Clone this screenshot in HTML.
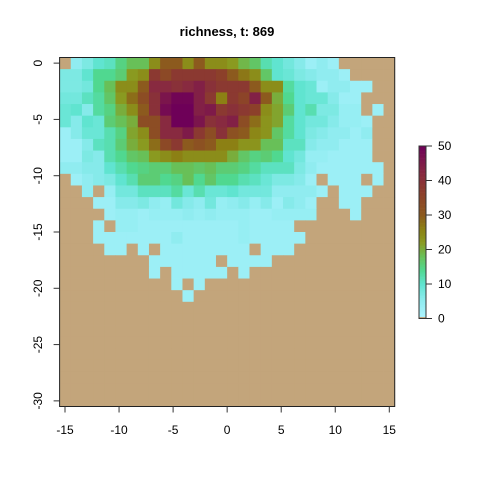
<!DOCTYPE html>
<html>
<head>
<meta charset="utf-8">
<style>
  html,body{margin:0;padding:0;background:#fff;}
  svg{display:block;font-family:"Liberation Sans",Arial,sans-serif;}
</style>
</head>
<body>
<svg id="chart" width="480" height="480" viewBox="0 0 480 480">
  <text x="227" y="36" text-anchor="middle" font-size="13" font-weight="bold">richness, t: 869</text>
  <g id="cells"></g>
  <rect x="59.6" y="57.5" width="335.1" height="349" fill="none" stroke="#222" stroke-width="1"/>
  <g id="xaxis"></g>
  <g id="yaxis"></g>
  <g id="legend"></g>
</svg>
<script>
const xTicks = [-15, -10, -5, 0, 5, 10, 15];
const yTicks = [0, -5, -10, -15, -20, -25, -30];
const legendTicks = [0, 10, 20, 30, 40, 50];
const nCols = 30;
const nRows = 30;
const row0  = [0,5,7,10,11,15,18,18,24,30,30,24,30,24,24,22,19,17,12,10,8,6,3,5,3,0,0,0,0,0];
const row1  = [7,7,10,14,14,16,22,24,38,34,38,38,38,38,36,30,27,24,17,10,9,7,6,5,5,3,0,0,0,0];
const row2  = [7,7,8,14,18,24,24,30,42,42,40,42,44,40,38,38,38,30,24,24,13,10,9,3,5,5,3,3,0,0];
const row3  = [8,8,11,13,17,22,28,33,40,46,49,49,44,38,26,38,35,44,30,20,14,10,9,9,6,3,3,0,0,0];
const row4  = [9,10,6,13,15,20,24,30,40,48,50,50,44,45,38,40,38,36,24,21,16,10,12,7,7,4,4,0,3,0];
const row5  = [9,6,10,9,16,18,20,33,33,42,50,50,46,40,42,44,33,28,23,21,13,10,8,8,6,4,4,3,0,0];
const row6  = [3,6,9,9,12,15,21,24,33,42,42,45,38,33,40,32,30,25,23,17,13,10,7,6,5,5,3,5,0,0];
const row7  = [3,3,6,11,12,16,20,22,28,34,38,30,32,30,26,26,23,23,18,18,11,11,6,5,5,3,3,3,0,0];
const row8  = [3,3,7,6,12,14,17,18,22,24,26,24,24,24,24,20,17,15,16,14,10,8,4,4,3,3,3,3,0,0];
const row9  = [5,5,6,6,10,12,14,15,16,16,18,18,17,18,16,16,15,13,11,11,11,7,5,3,3,3,3,3,3,0];
const row10 = [0,3,5,6,7,10,12,16,16,14,15,18,14,17,14,14,12,11,9,7,7,6,3,0,3,3,3,0,3,0];
const row11 = [0,0,5,0,4,8,8,11,11,11,13,9,12,9,9,10,8,8,8,5,5,5,5,3,0,3,3,3,0,0];
const row12 = [0,0,0,3,3,6,6,7,5,4,8,6,5,8,4,5,6,4,6,3,6,5,3,0,0,3,3,0,0,0];
const row13 = [0,0,0,0,3,4,4,3,4,4,4,5,4,5,4,4,4,3,3,4,4,4,4,0,0,0,3,0,0,0];
const row14 = [0,0,0,3,0,4,4,3,3,3,3,3,3,3,3,3,4,3,3,3,3,0,0,0,0,0,0,0,0,0];
const row15 = [0,0,0,3,3,3,3,3,3,3,5,3,3,3,3,3,4,3,3,3,3,3,0,0,0,0,0,0,0,0];
const row16 = [0,0,0,0,3,3,0,3,0,3,3,3,3,3,3,3,3,0,3,3,3,0,0,0,0,0,0,0,0,0];
const row17 = [0,0,0,0,0,0,0,0,3,3,3,3,3,3,0,3,3,3,3,0,0,0,0,0,0,0,0,0,0,0];
const row18 = [0,0,0,0,0,0,0,0,3,0,3,3,3,3,3,0,3,0,0,0,0,0,0,0,0,0,0,0,0,0];
const row19 = [0,0,0,0,0,0,0,0,0,0,3,0,3,0,0,0,0,0,0,0,0,0,0,0,0,0,0,0,0,0];
const row20 = [0,0,0,0,0,0,0,0,0,0,0,3,0,0,0,0,0,0,0,0,0,0,0,0,0,0,0,0,0,0];
const rows = [row0,row1,row2,row3,row4,row5,row6,row7,row8,row9,row10,row11,row12,row13,row14,row15,row16,row17,row18,row19,row20];

const NS = "http://www.w3.org/2000/svg";
const plotL = 59.6, plotR = 394.7, plotT = 57.5, plotB = 406.5;
const cellW = (plotR - plotL) / nCols;
const cellH = (plotB - plotT) / nRows;
function xScale(v){ return plotL + (v + 15.5) * (plotR - plotL) / 31; }
function yScale(v){ return plotT + (0.5 - v) * (plotB - plotT) / 31; }
function legY(v){ return 318.5 - v * (318.5 - 146) / 50; }

const stops = [
  [1,[168,242,252]],[5,[144,236,240]],[10,[96,228,208]],[14,[80,216,144]],
  [18,[104,192,88]],[22,[138,154,32]],[26,[140,128,20]],[30,[140,90,30]],
  [36,[140,64,42]],[42,[136,42,64]],[50,[110,0,88]]
];
function color(v){
  if (v <= 0.5) return "#c3a57b";
  if (v <= stops[0][0]) return "rgb(" + stops[0][1].join(",") + ")";
  for (let k = 1; k < stops.length; k++){
    if (v <= stops[k][0]){
      const a = stops[k-1], b = stops[k];
      const t = (v - a[0]) / (b[0] - a[0]);
      const c = a[1].map((x, j) => Math.round(x + (b[1][j] - x) * t));
      return "rgb(" + c.join(",") + ")";
    }
  }
  return "rgb(" + stops[stops.length-1][1].join(",") + ")";
}

const cells = document.getElementById("cells");
for (let r = 0; r < nRows; r++){
  const vals = r < rows.length ? rows[r] : null;
  for (let c = 0; c < nCols; c++){
    const v = vals ? vals[c] : 0;
    const rect = document.createElementNS(NS, "rect");
    rect.setAttribute("x", plotL + c * cellW);
    rect.setAttribute("y", plotT + r * cellH);
    rect.setAttribute("width", cellW + 0.4);
    rect.setAttribute("height", cellH + 0.4);
    rect.setAttribute("fill", color(v));
    
    
    cells.appendChild(rect);
  }
}

const xa = document.getElementById("xaxis");
xTicks.forEach(v => {
  const x = xScale(v);
  const l = document.createElementNS(NS, "line");
  l.setAttribute("x1", x); l.setAttribute("x2", x);
  l.setAttribute("y1", plotB); l.setAttribute("y2", plotB + 6);
  l.setAttribute("stroke", "#333");
  
  
  xa.appendChild(l);
  const t = document.createElementNS(NS, "text");
  t.setAttribute("x", x); t.setAttribute("y", 434);
  t.setAttribute("text-anchor", "middle"); t.setAttribute("font-size", "12");
  t.textContent = v;
  
  
  xa.appendChild(t);
});

const ya = document.getElementById("yaxis");
yTicks.forEach(v => {
  const y = yScale(v);
  const l = document.createElementNS(NS, "line");
  l.setAttribute("x1", plotL - 6); l.setAttribute("x2", plotL);
  l.setAttribute("y1", y); l.setAttribute("y2", y);
  l.setAttribute("stroke", "#333");
  
  
  ya.appendChild(l);
  const t = document.createElementNS(NS, "text");
  t.setAttribute("transform", "translate(42," + y + ") rotate(-90)");
  t.setAttribute("text-anchor", "middle"); t.setAttribute("font-size", "12");
  t.textContent = v;
  
  
  ya.appendChild(t);
});

const lg = document.getElementById("legend");
for (let v = 0; v < 50; v += 0.5){
  const r = document.createElementNS(NS, "rect");
  r.setAttribute("x", 419); r.setAttribute("width", 7);
  r.setAttribute("y", legY(v + 0.5)); r.setAttribute("height", (318.5 - 146) / 100 + 0.3);
  r.setAttribute("fill", color(v + 0.25));
  
  
  lg.appendChild(r);
}
const frame = document.createElementNS(NS, "rect");
frame.setAttribute("x", 419); frame.setAttribute("y", 146);
frame.setAttribute("width", 7); frame.setAttribute("height", 318.5 - 146);
frame.setAttribute("fill", "none"); frame.setAttribute("stroke", "#333");


lg.appendChild(frame);
legendTicks.forEach(v => {
  const y = legY(v);
  const l = document.createElementNS(NS, "line");
  l.setAttribute("x1", 426); l.setAttribute("x2", 432);
  l.setAttribute("y1", y); l.setAttribute("y2", y);
  l.setAttribute("stroke", "#333");
  
  
  lg.appendChild(l);
  const t = document.createElementNS(NS, "text");
  t.setAttribute("x", 438); t.setAttribute("y", y + 4);
  t.setAttribute("font-size", "12");
  t.textContent = v;
  
  
  lg.appendChild(t);
});
</script>
</body>
</html>
